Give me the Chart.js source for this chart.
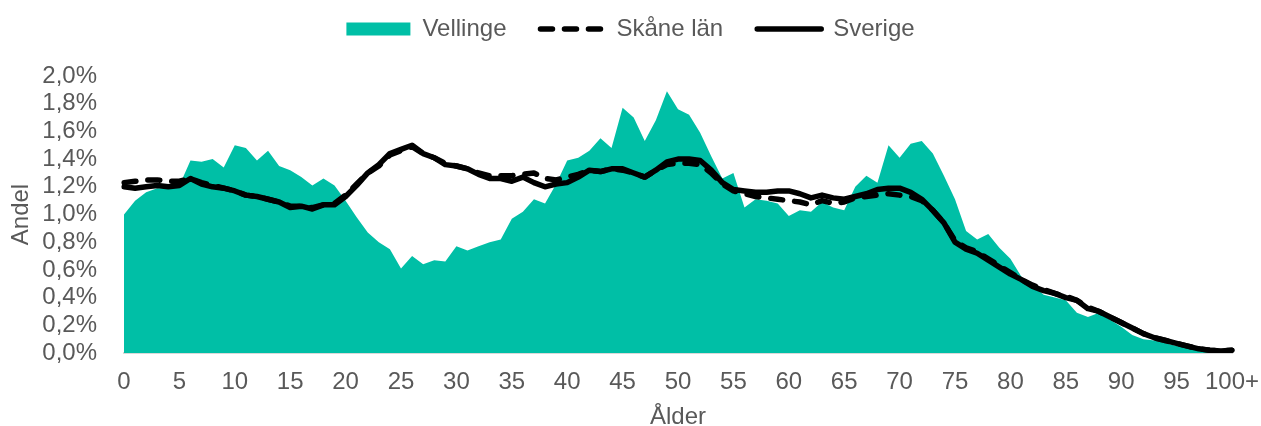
<!DOCTYPE html>
<html><head><meta charset="utf-8">
<script src="https://cdn.jsdelivr.net/npm/chart.js@4.4.1/dist/chart.umd.min.js"></script>
<style>html,body{margin:0;padding:0;background:#fff}#wrap{width:1261px;height:426px}</style>
</head><body><div id="wrap"><canvas id="c" width="1261" height="426"></canvas></div>
<script>
const ages = ["0","1","2","3","4","5","6","7","8","9","10","11","12","13","14","15","16","17","18","19","20","21","22","23","24","25","26","27","28","29","30","31","32","33","34","35","36","37","38","39","40","41","42","43","44","45","46","47","48","49","50","51","52","53","54","55","56","57","58","59","60","61","62","63","64","65","66","67","68","69","70","71","72","73","74","75","76","77","78","79","80","81","82","83","84","85","86","87","88","89","90","91","92","93","94","95","96","97","98","99","100+"];
const vellinge = [1.00,1.10,1.16,1.19,1.19,1.21,1.39,1.38,1.40,1.34,1.50,1.48,1.39,1.46,1.35,1.32,1.27,1.21,1.26,1.21,1.10,0.98,0.87,0.80,0.75,0.61,0.70,0.64,0.67,0.66,0.77,0.74,0.77,0.80,0.82,0.97,1.02,1.11,1.08,1.22,1.39,1.41,1.46,1.55,1.48,1.77,1.70,1.53,1.68,1.89,1.76,1.72,1.59,1.42,1.26,1.30,1.05,1.11,1.10,1.08,0.99,1.03,1.02,1.09,1.05,1.03,1.20,1.28,1.23,1.50,1.41,1.51,1.53,1.44,1.28,1.11,0.88,0.82,0.86,0.76,0.68,0.55,0.49,0.42,0.40,0.38,0.29,0.26,0.29,0.24,0.19,0.13,0.10,0.09,0.07,0.05,0.04,0.03,0.02,0.01,0.01];
const skane = [1.23,1.24,1.25,1.25,1.24,1.24,1.26,1.23,1.21,1.19,1.17,1.14,1.13,1.11,1.09,1.06,1.06,1.05,1.07,1.08,1.14,1.22,1.30,1.35,1.43,1.46,1.49,1.44,1.41,1.37,1.35,1.33,1.30,1.28,1.28,1.28,1.29,1.30,1.26,1.25,1.27,1.29,1.32,1.31,1.33,1.32,1.30,1.27,1.32,1.36,1.37,1.37,1.36,1.30,1.22,1.17,1.15,1.13,1.12,1.11,1.10,1.09,1.07,1.10,1.08,1.09,1.12,1.13,1.14,1.15,1.14,1.13,1.10,1.03,0.94,0.81,0.76,0.73,0.68,0.63,0.58,0.53,0.49,0.46,0.43,0.41,0.38,0.33,0.30,0.26,0.22,0.18,0.14,0.11,0.09,0.07,0.05,0.03,0.02,0.015,0.02];
const sverige = [1.20,1.19,1.20,1.21,1.20,1.21,1.26,1.22,1.20,1.19,1.17,1.14,1.13,1.11,1.09,1.05,1.06,1.04,1.07,1.07,1.13,1.21,1.30,1.36,1.44,1.47,1.50,1.44,1.41,1.36,1.35,1.33,1.29,1.26,1.26,1.24,1.27,1.23,1.20,1.22,1.23,1.27,1.32,1.31,1.33,1.33,1.30,1.27,1.32,1.38,1.40,1.40,1.39,1.32,1.23,1.18,1.17,1.16,1.16,1.17,1.17,1.15,1.12,1.14,1.12,1.11,1.13,1.15,1.18,1.19,1.19,1.16,1.11,1.03,0.94,0.80,0.75,0.72,0.67,0.62,0.57,0.53,0.48,0.45,0.43,0.40,0.38,0.32,0.30,0.26,0.22,0.18,0.14,0.11,0.09,0.07,0.05,0.03,0.02,0.015,0.02];
const seriesNames = ["Vellinge","Skåne län","Sverige"];
const yTitle = "Andel";
const xTitle = "Ålder";

const grey = '#595959';
const FONT = "'Liberation Sans', Arial, sans-serif";
const legendSpacer = {
  id: 'legendSpacer',
  beforeInit(chart) {
    const orig = chart.legend.fit;
    chart.legend.fit = function() { orig.call(this); this.height += 25; };
  }
};

new Chart(document.getElementById('c'), {
  type: 'line',
  data: {
    labels: ages,
    datasets: [
      { label: seriesNames[0], data: vellinge, fill: 'origin', backgroundColor: '#00BFA6', borderColor: '#00BFA6', borderWidth: 0, pointRadius: 0, pointStyle: 'rect', tension: 0 },
      { label: seriesNames[1], data: skane, fill: false, borderColor: '#000', backgroundColor: '#000', borderWidth: 5.5, borderDash: [12, 12], borderCapStyle: 'round', borderJoinStyle: 'round', pointRadius: 0, pointStyle: 'line', tension: 0 },
      { label: seriesNames[2], data: sverige, fill: false, borderColor: '#000', backgroundColor: '#000', borderWidth: 5.5, borderCapStyle: 'round', borderJoinStyle: 'round', pointRadius: 0, pointStyle: 'line', tension: 0 }
    ]
  },
  options: {
    responsive: false,
    animation: false,
    events: [],
    layout: { padding: { top: -17, right: 0, bottom: 0, left: 0 } },
    plugins: {
      filler: { drawTime: 'beforeDatasetsDraw' },
      tooltip: { enabled: false },
      legend: {
        position: 'top',
        labels: {
          usePointStyle: true,
          pointStyleWidth: 64,
          boxWidth: 64,
          boxHeight: 13,
          padding: 34,
          color: grey,
          font: { family: FONT, size: 24 },
          generateLabels: function(chart) {
            const items = Chart.defaults.plugins.legend.labels.generateLabels(chart);
            items.forEach(function(it) {
              const ds = chart.data.datasets[it.datasetIndex];
              it.lineDash = ds.borderDash || [];
              it.lineCap = ds.borderCapStyle || 'butt';
              it.lineWidth = ds.borderWidth;
            });
            return items;
          }
        }
      }
    },
    scales: {
      x: {
        type: 'category',
        offset: false,
        grid: { display: false, drawTicks: false },
        border: { display: true, color: '#D9D9D9', width: 2 },
        ticks: {
          autoSkip: false, maxRotation: 0, minRotation: 0, padding: 15,
          color: grey, font: { family: FONT, size: 24 },
          callback: function(v, i) { return i % 5 === 0 ? ages[i] : ''; }
        },
        title: { display: true, text: xTitle, color: grey, font: { family: FONT, size: 24, lineHeight: 0.7 }, padding: { top: 0, bottom: 0 } },
        afterFit: function(s) { s.height = 73; s.paddingRight = 29; }
      },
      y: {
        min: 0, max: 2.0,
        grid: { display: false, drawTicks: false },
        border: { display: false },
        ticks: {
          autoSkip: false,
          stepSize: 0.2, padding: 27, color: grey, font: { family: FONT, size: 24 },
          callback: function(v) { return v.toFixed(1).replace('.', ',') + '%'; }
        },
        title: { display: true, text: yTitle, color: grey, font: { family: FONT, size: 24, lineHeight: 1 }, padding: { top: 9, bottom: 0 } },
        afterFit: function(s) { s.width = 124; }
      }
    }
  },
  plugins: [legendSpacer]
});
</script>
</body></html>
